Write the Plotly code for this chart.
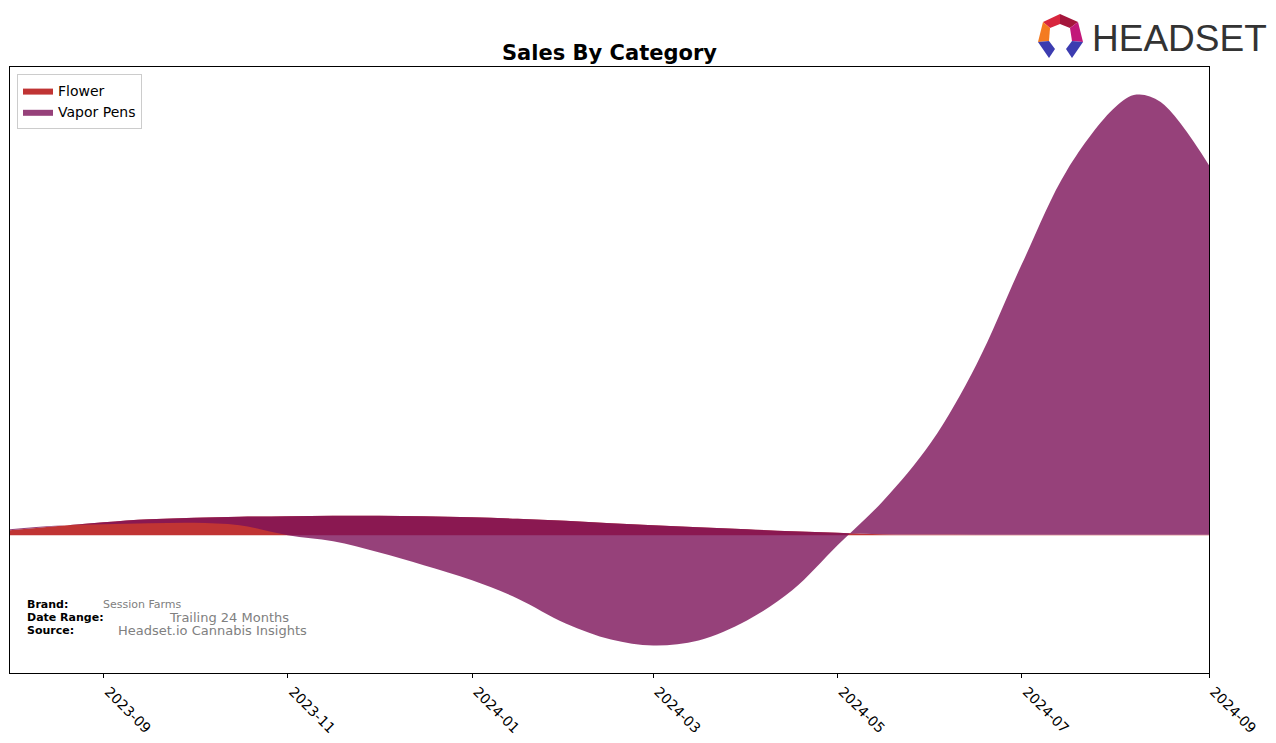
import plotly.graph_objects as go

# ---- data (relative sales units) ----
dates = [
    "2023-08-01", "2023-08-16", "2023-09-01", "2023-09-16", "2023-10-01", "2023-10-16",
    "2023-11-01", "2023-11-16", "2023-12-01", "2023-12-16", "2024-01-01", "2024-01-16",
    "2024-02-01", "2024-02-16", "2024-03-01", "2024-03-16", "2024-04-01", "2024-04-16",
    "2024-05-01", "2024-05-16", "2024-06-01", "2024-06-16", "2024-07-01", "2024-07-16",
    "2024-08-01", "2024-08-08", "2024-08-16", "2024-09-01",
]
flower = [
    5, 9, 13, 16, 17.5, 18.5,
    19, 19.5, 19.5, 19, 18, 16.5,
    14.5, 12, 10, 8, 6, 4,
    2.5, 1, 0.8, 0.6, 0.5, 0.5,
    0.5, 0.5, 0.5, 0.5,
]
vapor_pens = [
    1, 0.5, -2, -4, -5, -8.5,
    -19, -25.5, -36.5, -49, -63, -79.5,
    -102.5, -116, -120, -113, -91, -59,
    -12.5, 33, 92, 170, 270, 364,
    427, 439.5, 432, 369,
]
tick_vals = ["2023-09-01", "2023-11-01", "2024-01-01", "2024-03-01",
             "2024-05-01", "2024-07-01", "2024-09-01"]
tick_text = ["2023-09", "2023-11", "2024-01", "2024-03", "2024-05", "2024-07", "2024-09"]

stack_top = [f + v for f, v in zip(flower, vapor_pens)]

# ---- layout geometry ----
W, H = 1276, 743
L, R, T, B = 10, 1209, 67, 673


def px2paper(xp, yp):
    return (xp - L) / (R - L), (B - yp) / (B - T)


FONT = "DejaVu Sans"
flower_fill = "rgba(176,1,1,0.8)"
vapor_fill = "rgba(124,18,89,0.8)"

fig = go.Figure()
fig.add_trace(go.Scatter(
    x=dates, y=flower, name="Flower", mode="lines",
    line=dict(width=0, shape="spline", color=flower_fill),
    fill="tozeroy", fillcolor=flower_fill, hoverinfo="skip",
))
fig.add_trace(go.Scatter(
    x=dates, y=stack_top, name="Vapor Pens", mode="lines",
    line=dict(width=0, shape="spline", color=vapor_fill),
    fill="tonexty", fillcolor=vapor_fill, hoverinfo="skip",
))

lo = min(min(stack_top), 0)
hi = max(max(stack_top), max(flower))
pad = 0.05 * (hi - lo)

fig.update_xaxes(
    range=["2023-08-01", "2024-09-01"], type="date", automargin=False,
    tickmode="array", tickvals=tick_vals, ticktext=tick_text, tickangle=45,
    ticklabelshift=5,
    ticks="outside", ticklen=4, tickcolor="black", tickwidth=1,
    showline=True, linecolor="black", linewidth=1, mirror=True,
    showgrid=False, zeroline=False,
    tickfont=dict(family=FONT, size=14, color="black"),
)
fig.update_yaxes(
    range=[lo - pad, hi + pad], showticklabels=False, ticks="", automargin=False,
    showline=True, linecolor="black", linewidth=1, mirror=True,
    showgrid=False, zeroline=False,
)

annotations = []
tx, ty = px2paper((L + R) / 2, 53)
annotations.append(dict(x=tx, y=ty, xref="paper", yref="paper", text="<b>Sales By Category</b>",
                        showarrow=False, xanchor="center", yanchor="middle",
                        font=dict(family=FONT, size=21, color="black")))

info = [
    (25, 604, "<b>Brand:</b>", 11, "black"),
    (101, 604, "Session Farms", 11, "#808080"),
    (25, 617, "<b>Date Range:</b>", 11, "black"),
    (167, 617, "Trailing 24 Months", 13, "#808080"),
    (25, 630, "<b>Source:</b>", 11, "black"),
    (116, 630, "Headset.io Cannabis Insights", 13, "#808080"),
]
for xp, yp, txt, sz, col in info:
    ax_, ay_ = px2paper(xp, yp)
    annotations.append(dict(x=ax_, y=ay_, xref="paper", yref="paper", text=txt, showarrow=False,
                            xanchor="left", yanchor="middle",
                            font=dict(family=FONT, size=sz, color=col)))

hx, hy = px2paper(1090, 38)
annotations.append(dict(x=hx, y=hy, xref="paper", yref="paper", text="HEADSET", showarrow=False,
                        xanchor="left", yanchor="middle",
                        font=dict(family="Liberation Sans", size=37, color="#333333")))

# logo icon pieces (decoration)
logo_pieces = [
    ([(1043, 22), (1060, 14), (1060, 24), (1050, 28)], "#D8263E"),
    ([(1060, 14), (1078, 22), (1070, 28), (1060, 24)], "#A4163C"),
    ([(1043, 22), (1050, 28), (1049, 41), (1038, 42)], "#F47B20"),
    ([(1078, 22), (1083, 42), (1072, 41), (1070, 28)], "#C2187A"),
    ([(1038, 42), (1049, 41), (1055, 49), (1049, 58)], "#3C3CB0"),
    ([(1072, 41), (1083, 42), (1072, 58), (1066, 49)], "#3C3CB0"),
]
shapes = []
for pts, col in logo_pieces:
    pp = [px2paper(x, y) for x, y in pts]
    path = "M " + " L ".join(f"{a:.5f},{b:.5f}" for a, b in pp) + " Z"
    shapes.append(dict(type="path", path=path, xref="paper", yref="paper",
                       fillcolor=col, line=dict(width=0)))

lx, ly = px2paper(17, 74)
fig.update_layout(
    width=W, height=H,
    margin=dict(l=L, r=W - R, t=T, b=H - B, autoexpand=False),
    paper_bgcolor="white", plot_bgcolor="white",
    showlegend=True,
    legend=dict(x=lx, y=ly, xanchor="left", yanchor="top", traceorder="normal",
                bgcolor="rgba(255,255,255,0.8)", bordercolor="#cccccc", borderwidth=1,
                font=dict(family=FONT, size=14, color="black"), tracegroupgap=2),
    annotations=annotations, shapes=shapes,
)

fig.write_html("out.html")
